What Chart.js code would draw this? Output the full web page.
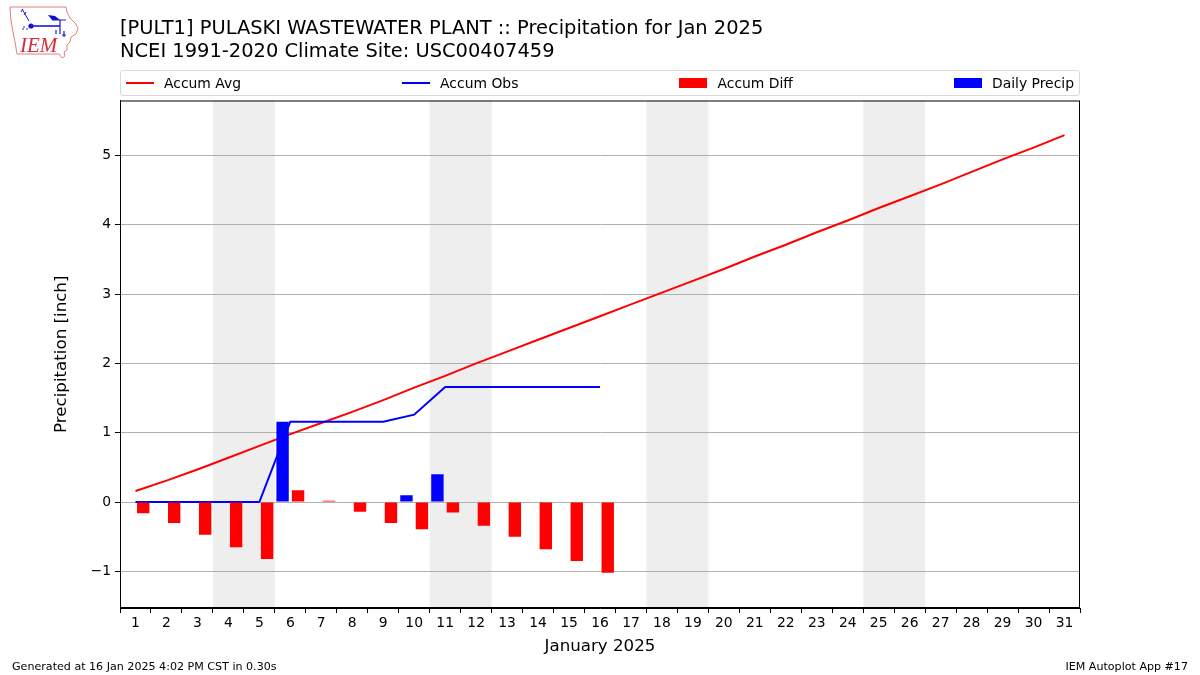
<!DOCTYPE html>
<html>
<head>
<meta charset="utf-8">
<title>PULT1 Precipitation Jan 2025</title>
<script src="https://cdn.jsdelivr.net/npm/chart.js@4"></script>
<style>
  html, body { margin: 0; padding: 0; background: #fff; }
  body { width: 1200px; height: 675px; position: relative; overflow: hidden; font-family: "DejaVu Sans", sans-serif; color: #000; }
  #plot { position: absolute; left: 0; top: 0; width: 1200px; height: 675px; }
  #logo { position: absolute; left: 8px; top: 6px; }
  #legend { position: absolute; left: 120px; top: 70px; width: 958px; height: 24px; border: 1px solid #d9d9d9; border-radius: 3px; display: flex; justify-content: space-between; align-items: center; font-size: 13.9px; padding: 0; box-sizing: content-box; }
  #legend .item { display: flex; align-items: center; margin: 0 5px; }
  #legend .swatch { width: 28px; margin-right: 10px; }
  .foot { position: absolute; top: 660px; font-size: 11.1px; line-height: 14px; color: #000; }
</style>
</head>
<body>
<canvas id="plot" width="1200" height="675"></canvas>

<!-- IEM logo -->
<svg id="logo" width="72" height="54" viewBox="0 0 72 54">
  <path d="M2 1 L58 1 L59 6 L62 12 L67 17 L70 22 L68 28 L63 31 L62 36 L59 39 L59 44 L56 46 L57 50 L54 52 L51 48 L9 48 L7 36 L5 26 L3 15 Z" fill="#fff" stroke="#e08080" stroke-width="1"/>
  <path d="M14 3 L17 8 L21 15" fill="none" stroke="#1a1ad6" stroke-width="1"/>
  <path d="M13 6 L15 3 M16 9 L18 6" fill="none" stroke="#1a1ad6" stroke-width="1"/>
  <circle cx="23" cy="20" r="2.6" fill="#1010d0"/>
  <path d="M23 20 L52 20" stroke="#1a1ad6" stroke-width="1.6"/>
  <path d="M40 9 L47 10 L52 14 L44 14 Z" fill="#1010d0"/>
  <path d="M44 14 L58 14" stroke="#1a1ad6" stroke-width="1"/>
  <path d="M52 14 L52 28" stroke="#1a1ad6" stroke-width="1.2"/>
  <path d="M48 24 L48 28 M56 25 L56 31 M54 29 L58 29" stroke="#1a1ad6" stroke-width="1.2"/>
  <path d="M15 21 L17 21 M14 23 L16 23 M18 23 L20 23" stroke="#3030c0" stroke-width="1.2"/>
  <text x="12" y="46" font-family="Liberation Serif" font-style="italic" font-size="21" fill="#d62d3a">IEM</text>
</svg>

<div id="legend"></div>
<div class="foot" style="left:12px">Generated at 16 Jan 2025 4:02 PM CST in 0.30s</div>
<div class="foot" style="right:12px">IEM Autoplot App #17</div>

<script>
// Kunlar
const days = ['1','2','3','4','5','6','7','8','9','10','11','12','13','14','15','16','17','18','19','20','21','22','23','24','25','26','27','28','29','30','31'];

// Series
const accumAvg = [0.16,0.31,0.47,0.64,0.81,0.98,1.14,1.30,1.47,1.65,1.82,2.00,2.17,2.34,2.51,2.68,2.85,3.02,3.19,3.36,3.54,3.71,3.89,4.06,4.24,4.41,4.58,4.76,4.94,5.11,5.29];
const accumObs = [0,0,0,0,0,1.16,1.16,1.16,1.16,1.26,1.66,1.66,1.66,1.66,1.66,1.66];
const accumDiff = [-0.16,-0.30,-0.47,-0.65,-0.82,0.17,0.02,-0.14,-0.30,-0.39,-0.15,-0.34,-0.50,-0.68,-0.85,-1.02];
const dailyPrecip = [0,0,0,0,0,1.16,0,0,0,0.10,0.40,0,0,0,0,0];

// Weekend bands as [first day, last day]
const weekends = [[4,5],[11,12],[18,19],[25,26]];

const yTicks = [-1,0,1,2,3,4,5];
const titleLines = ['[PULT1] PULASKI WASTEWATER PLANT :: Precipitation for Jan 2025', 'NCEI 1991-2020 Climate Site: USC00407459'];

const FONT = '"DejaVu Sans", sans-serif';

// Dam olish kunlari fonini chizish
const weekendBands = {
    id: 'weekendBands',
    beforeDraw(chart) {
        const { ctx, chartArea, scales } = chart;
        const half = (scales.x.getPixelForTick(1) - scales.x.getPixelForTick(0)) / 2;
        ctx.save();
        ctx.fillStyle = '#eeeeee';
        weekends.forEach(function(w) {
            const x0 = scales.x.getPixelForValue(days.indexOf(String(w[0]))) - half;
            const x1 = scales.x.getPixelForValue(days.indexOf(String(w[1]))) + half;
            ctx.fillRect(x0, chartArea.top, x1 - x0, chartArea.bottom - chartArea.top);
        });
        ctx.restore();
    }
};

// Grafik atrofidagi qora ramka
const plotFrame = {
    id: 'plotFrame',
    afterDraw(chart) {
        const { ctx, chartArea } = chart;
        ctx.save();
        ctx.strokeStyle = '#000';
        ctx.lineWidth = 1;
        ctx.strokeRect(chartArea.left + 0.5, chartArea.top + 0.5, chartArea.right - chartArea.left - 1, chartArea.bottom - chartArea.top - 1);
        ctx.restore();
    }
};

const chart = new Chart(document.getElementById('plot').getContext('2d'), {
    type: 'bar',
    data: {
        labels: days,
        datasets: [
            { type: 'line', label: 'Accum Avg', data: accumAvg, borderColor: '#ff0000', backgroundColor: '#ff0000', borderWidth: 2, pointRadius: 0, tension: 0, order: 4 },
            { type: 'line', label: 'Accum Obs', data: accumObs, borderColor: '#0000ff', backgroundColor: '#0000ff', borderWidth: 2, pointRadius: 0, tension: 0, order: 3 },
            { type: 'bar', label: 'Accum Diff', data: accumDiff, backgroundColor: '#ff0000', barPercentage: 0.8, categoryPercentage: 1, order: 2 },
            { type: 'bar', label: 'Daily Precip', data: dailyPrecip, backgroundColor: '#0000ff', barPercentage: 0.8, categoryPercentage: 1, order: 1 }
        ]
    },
    options: {
        responsive: false,
        animation: false,
        devicePixelRatio: 1,
        layout: { padding: { left: 52, right: 120, top: 18, bottom: 18 } },
        plugins: {
            legend: { display: false },
            tooltip: { enabled: false },
            title: {
                display: true,
                text: titleLines,
                align: 'start',
                fullSize: false,
                color: '#000',
                font: { family: FONT, size: 19.44, weight: 'normal', lineHeight: 1.17 },
                padding: { top: 0, bottom: 37 }
            }
        },
        scales: {
            x: {
                offset: true,
                grid: { display: true, drawOnChartArea: false, color: '#000', tickLength: 5, tickWidth: 1, tickColor: '#000' },
                border: { color: '#000', width: 1 },
                ticks: { color: '#000', font: { family: FONT, size: 13.9 }, padding: 2, autoSkip: false, maxRotation: 0 },
                title: { display: true, text: 'January 2025', color: '#000', font: { family: FONT, size: 16.67 }, padding: { top: 3, bottom: 0 } },
                afterFit(scale) { scale.height = 49; }
            },
            y: {
                min: -1.527,
                max: 5.79,
                grid: { color: '#b0b0b0', lineWidth: 1, tickLength: 5, tickColor: '#000' },
                border: { color: '#000', width: 1 },
                ticks: {
                    color: '#000',
                    font: { family: FONT, size: 13.9 },
                    padding: 4,
                    callback: function(v) { return v < 0 ? '\u2212' + Math.abs(v) : String(v); }
                },
                afterBuildTicks(scale) { scale.ticks = yTicks.map(function(v) { return { value: v }; }); },
                title: { display: true, text: 'Precipitation [inch]', color: '#000', font: { family: FONT, size: 16.67 }, padding: { top: 0, bottom: 8 } },
                afterFit(scale) { scale.width = 68; }
            }
        }
    },
    plugins: [weekendBands, plotFrame]
});

// HTML legenda
const legendEl = document.getElementById('legend');
chart.data.datasets.forEach(function(ds) {
    const item = document.createElement('div');
    item.className = 'item';
    const swatch = document.createElement('span');
    swatch.className = 'swatch';
    swatch.style.height = ds.type === 'line' ? '2px' : '10px';
    swatch.style.background = ds.backgroundColor;
    const text = document.createElement('span');
    text.textContent = ds.label;
    item.appendChild(swatch);
    item.appendChild(text);
    legendEl.appendChild(item);
});
</script>
</body>
</html>
